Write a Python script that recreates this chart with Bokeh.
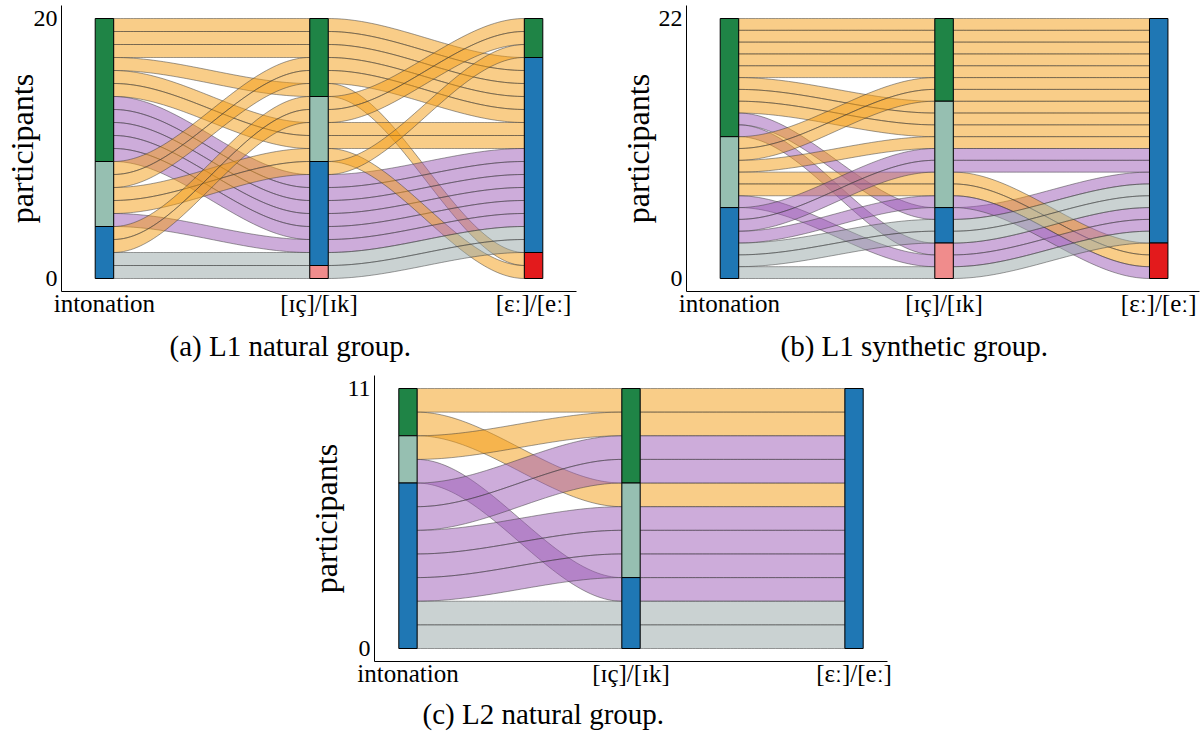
import numpy as np
from bokeh.plotting import figure
from bokeh.layouts import column, row
from bokeh.models import FixedTicker, Title
from bokeh.embed import file_html
from bokeh.resources import INLINE

# ---------------- data ----------------
AXIS_NAMES = ["intonation", "[ɪç]/[ɪk]", "[ɛː]/[eː]"]
Y_LABEL = "participants"
# strata, top to bottom, for each axis
STRATA = [["g", "l", "b"], ["g", "l", "b", "p"], ["g", "b", "r"]]
STRATUM_COLORS = {"g": "#1f8446", "l": "#96bfb1", "b": "#1f77b4", "p": "#f08c8c", "r": "#e31a1c"}
FLOW_COLORS = {"o": "#f39c12", "u": "#9b59b6", "y": "#95a5a6"}

# one entry per participant: category on each axis and flow colour
A_INT  = "g g g g g g g g g g g l l l l l b b b b".split()
A_IC   = "g g g g l l b b b b b g g l b b l l b p".split()
A_E    = "b b b r b b b b b b b b b r g b g g b b".split()
A_FILL = "o o o o o o u u u u u o o o o u o o y y".split()

B_INT  = "g g g g g g g g g g l l l l l l b b b b b b".split()
B_IC   = "g g g g g l l l b p g g l l l p l l l b b p".split()
B_E    = "b b b b b b b b b b b b b r r b b b r b b b".split()
B_FILL = "o o o o o o o o u u o o o o o u u u u y y y".split()

C_INT  = "g g l l b b b b b b b".split()
C_IC   = "g l g b g g l l l b b".split()
C_E    = "b b b b b b b b b b b".split()
C_FILL = "o o o u u u u u u y y".split()

CAPTIONS = ["(a) L1 natural group.", "(b) L1 synthetic group.", "(c) L2 natural group."]

FONT = "Liberation Serif"
# order of the other axes used to stack lodes inside a stratum
GUIDES = [[1, 2], [2, 0], [1, 0]]


def positions(cats):
    n = len(cats[0])
    out = []
    for k in range(3):
        keys = []
        for i in range(n):
            key = [STRATA[k].index(cats[k][i])]
            for g in GUIDES[k]:
                key.append(STRATA[g].index(cats[g][i]))
            key.append(i)
            keys.append(tuple(key))
        order = sorted(range(n), key=lambda i: keys[i])
        pos = [0] * n
        for r, i in enumerate(order):
            pos[i] = n - 1 - r
        out.append(pos)
    return out


def make_panel(cats, fills, caption, width, height, border, xr, barw, cap_offset,
               cap_standoff, ylab_standoff):
    n = len(fills)
    lb, rb, tb, bb = border
    p = figure(width=width, height=height, output_backend="svg", toolbar_location=None,
               x_range=xr, y_range=(-0.05 * n, 1.05 * n),
               min_border_left=lb, min_border_right=rb, min_border_top=tb, min_border_bottom=bb)
    p.outline_line_color = None
    p.grid.visible = False
    p.background_fill_color = "white"
    p.border_fill_color = "white"

    pos = positions(cats)
    t = np.linspace(0, 1, 60)
    s = 3 * t ** 2 - 2 * t ** 3
    xs_all, ys_all, cols = [], [], []
    for k in range(2):
        x0 = (k + 1) + barw / 2
        x1 = (k + 2) - barw / 2
        xx = x0 + (x1 - x0) * t
        for i in range(n):
            ya = pos[k][i]
            yb = pos[k + 1][i]
            low = ya + (yb - ya) * s
            xs_all.append(np.concatenate([xx, xx[::-1]]).tolist())
            ys_all.append(np.concatenate([low, (low + 1)[::-1]]).tolist())
            cols.append(FLOW_COLORS[fills[i]])
    p.patches(xs_all, ys_all, fill_color=cols, fill_alpha=0.5,
              line_color="#3c3c3c", line_alpha=0.55, line_width=0.9)

    lefts, rights, bots, tops, scol = [], [], [], [], []
    for k in range(3):
        top = n
        for st in STRATA[k]:
            c = sum(1 for v in cats[k] if v == st)
            if c == 0:
                continue
            lefts.append(k + 1 - barw / 2)
            rights.append(k + 1 + barw / 2)
            tops.append(top)
            bots.append(top - c)
            scol.append(STRATUM_COLORS[st])
            top -= c
    p.quad(left=lefts, right=rights, bottom=bots, top=tops, fill_color=scol,
           line_color="black", line_width=1)

    p.xaxis.ticker = FixedTicker(ticks=[1, 2, 3])
    p.xaxis.major_label_overrides = {1: AXIS_NAMES[0], 2: AXIS_NAMES[1], 3: AXIS_NAMES[2]}
    p.yaxis.ticker = FixedTicker(ticks=[0, n])
    for ax in (p.xaxis, p.yaxis):
        ax.major_tick_line_color = None
        ax.minor_tick_line_color = None
        ax.major_tick_out = 0
        ax.major_tick_in = 0
        ax.axis_line_color = "black"
        ax.axis_line_width = 1
        ax.major_label_text_font = FONT
        ax.major_label_text_color = "black"
    p.xaxis.major_label_text_font_size = "25px"
    p.xaxis.major_label_standoff = -2
    p.yaxis.major_label_text_font_size = "24px"
    p.yaxis.major_label_standoff = 4

    p.yaxis.axis_label = Y_LABEL
    p.yaxis.axis_label_text_font = FONT
    p.yaxis.axis_label_text_font_size = "32px"
    p.yaxis.axis_label_text_font_style = "normal"
    p.yaxis.axis_label_text_color = "black"
    p.yaxis.axis_label_standoff = ylab_standoff

    p.add_layout(Title(text=caption, align="left", text_font=FONT, text_font_size="29px",
                       text_font_style="normal", text_color="black", offset=cap_offset,
                       standoff=cap_standoff), "below")
    return p


pa = make_panel([A_INT, A_IC, A_E], A_FILL, CAPTIONS[0], 610, 370,
                (61, 34, 5, 79), (0.8, 3.2), 0.086, 108, 16, -9)
pb = make_panel([B_INT, B_IC, B_E], B_FILL, CAPTIONS[1], 590, 370,
                (76, 1, 5, 79), (0.8, 3.19), 0.086, 94, 16, 0)
pc = make_panel([C_INT, C_IC, C_E], C_FILL, CAPTIONS[2], 1200, 366,
                (374, 313, 5, 75), (0.85, 3.15), 0.082, 48, 13, 0)

layout = column(row(pa, pb), pc)
open("out.html", "w").write(file_html(layout, INLINE))
